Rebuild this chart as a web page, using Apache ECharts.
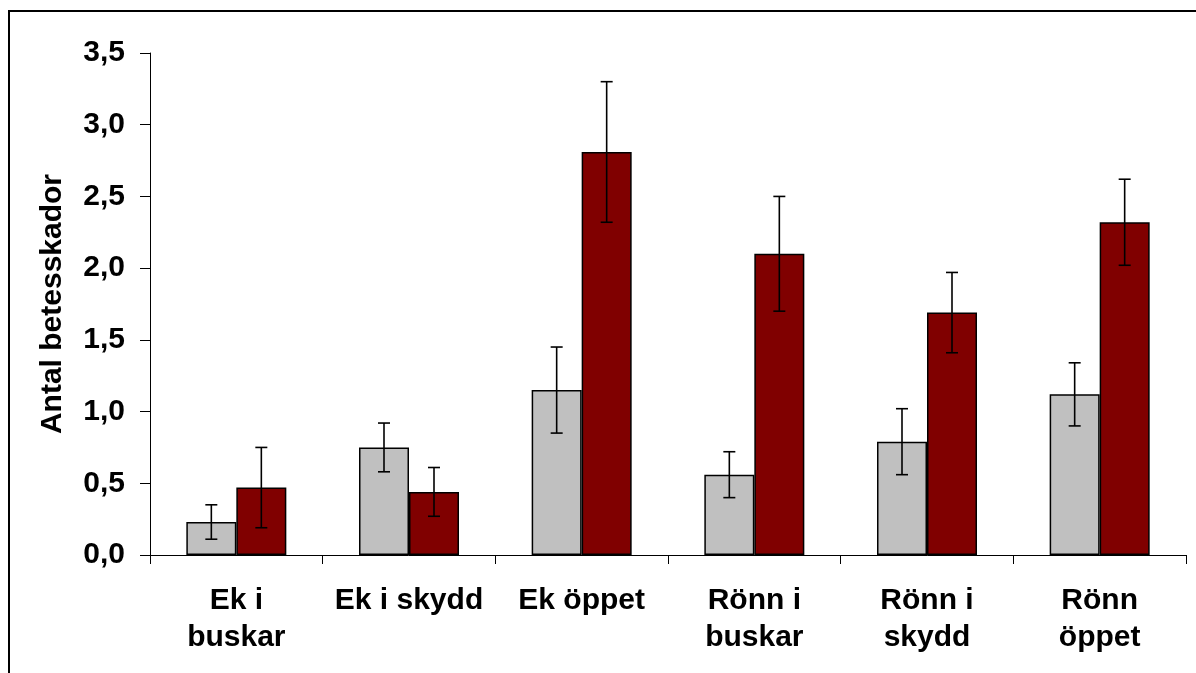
<!DOCTYPE html>
<html>
<head>
<meta charset="utf-8">
<script src="https://cdn.jsdelivr.net/npm/echarts@6/dist/echarts.min.js"></script>
<style>
  html, body { margin: 0; padding: 0; background: #fff; }
  #chart { width: 1196px; height: 673px; }
</style>
</head>
<body>
<div id="chart"></div>
<script>
const categories = ['Ek i\nbuskar', 'Ek i skydd', 'Ek öppet', 'Rönn i\nbuskar', 'Rönn i\nskydd', 'Rönn\nöppet'];
const greyValues = [0.23, 0.75, 1.15, 0.56, 0.79, 1.12];
const greyErrors = [0.12, 0.17, 0.30, 0.16, 0.23, 0.22];
const redValues = [0.47, 0.44, 2.81, 2.10, 1.69, 2.32];
const redErrors = [0.28, 0.17, 0.49, 0.40, 0.28, 0.30];

const font = 'Liberation Sans, Arial, sans-serif';
const barW = 50;

function errorSeries (values, errors, offset) {
  return {
    type: 'custom',
    z: 5,
    data: values.map(function (v, i) { return [i, v - errors[i], v + errors[i]]; }),
    renderItem: function (params, api) {
      const lo = api.coord([api.value(0), api.value(1)]);
      const hi = api.coord([api.value(0), api.value(2)]);
      const x = lo[0] + offset;
      const cap = 6;
      const style = { stroke: '#000', lineWidth: 1.6 };
      return {
        type: 'group',
        children: [
          { type: 'line', shape: { x1: x, y1: lo[1], x2: x, y2: hi[1] }, style: style },
          { type: 'line', shape: { x1: x - cap, y1: lo[1], x2: x + cap, y2: lo[1] }, style: style },
          { type: 'line', shape: { x1: x - cap, y1: hi[1], x2: x + cap, y2: hi[1] }, style: style }
        ]
      };
    }
  };
}

const chart = echarts.init(document.getElementById('chart'));
chart.setOption({
  animation: false,
  grid: { left: 150, right: 10, top: 53, bottom: 118 },
  graphic: [{
    type: 'rect',
    shape: { x: 9, y: 11, width: 1400, height: 900 },
    style: { fill: 'none', stroke: '#000', lineWidth: 2 },
    silent: true
  }],
  xAxis: {
    type: 'category',
    data: categories,
    axisLine: { lineStyle: { color: '#000', width: 1 } },
    axisTick: { show: true, length: 9, lineStyle: { color: '#000' } },
    axisLabel: {
      color: '#000', fontFamily: font, fontWeight: 'bold', fontSize: 30,
      lineHeight: 37, margin: 27, interval: 0
    }
  },
  yAxis: {
    type: 'value',
    min: 0, max: 3.5, interval: 0.5,
    name: 'Antal betesskador',
    nameLocation: 'middle',
    nameGap: 82,
    nameRotate: 90,
    nameTextStyle: { color: '#000', fontFamily: font, fontWeight: 'bold', fontSize: 30 },
    splitLine: { show: false },
    axisLine: { show: true, lineStyle: { color: '#000', width: 1 } },
    axisTick: { show: true, length: 10, lineStyle: { color: '#000' } },
    axisLabel: {
      color: '#000', fontFamily: font, fontWeight: 'bold', fontSize: 30, margin: 25,
      formatter: function (v) { return v.toFixed(1).replace('.', ','); }
    }
  },
  series: [
    {
      type: 'bar',
      data: greyValues,
      barWidth: barW,
      barGap: 0,
      itemStyle: { color: '#C0C0C0', borderColor: '#000', borderWidth: 1.5 }
    },
    {
      type: 'bar',
      data: redValues,
      barWidth: barW,
      barGap: 0,
      itemStyle: { color: '#800000', borderColor: '#000', borderWidth: 1.5 }
    },
    errorSeries(greyValues, greyErrors, -barW / 2),
    errorSeries(redValues, redErrors, barW / 2)
  ]
});
</script>
</body>
</html>
